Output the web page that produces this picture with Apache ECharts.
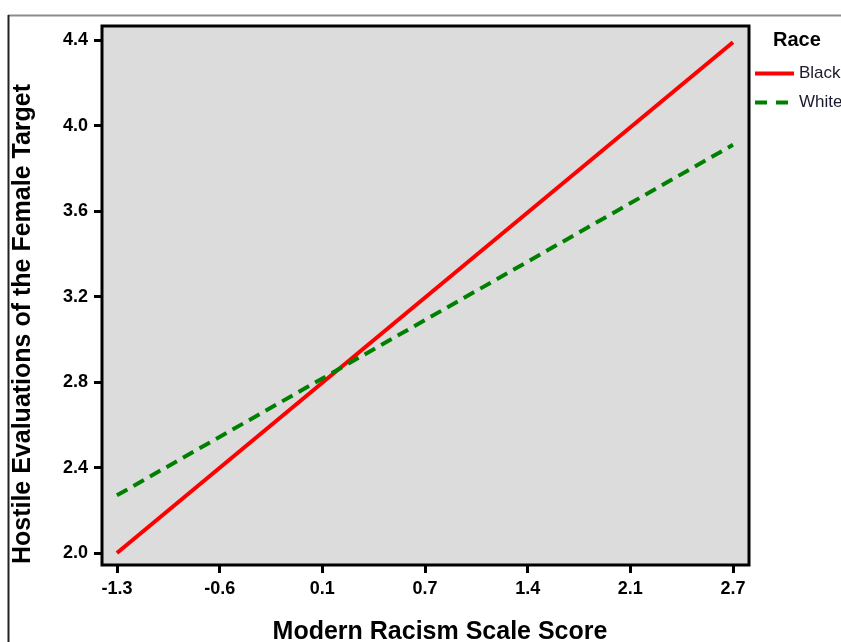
<!DOCTYPE html>
<html>
<head>
<meta charset="utf-8">
<script src="https://cdn.jsdelivr.net/npm/echarts@6/dist/echarts.min.js"></script>
<style>html,body{margin:0;padding:0;background:#fff}#c{width:841px;height:642px}</style>
</head>
<body>
<div id="c"></div>
<script>
// Data
var xTickValues = [-1.26, -0.593, 0.073, 0.74, 1.407, 2.073, 2.74];
var xTickLabels = ['-1.3', '-0.6', '0.1', '0.7', '1.4', '2.1', '2.7'];
var yTickValues = [2.0, 2.4, 2.8, 3.2, 3.6, 4.0, 4.4];
var seriesNames = ['Black', 'White'];
var lineX = [-1.26, 2.74];
var blackValues = [2.0, 4.39];
var whiteValues = [2.27, 3.91];
var xTitle = 'Modern Racism Scale Score';
var yTitle = 'Hostile Evaluations of the Female Target';
var legendTitle = 'Race';

var chart = echarts.init(document.getElementById('c'), null, {renderer: 'canvas'});
var FONT = '"Liberation Sans", Arial, sans-serif';

function toPairs(xs, ys) { return xs.map(function (x, i) { return [x, ys[i]]; }); }

var option = {
  animation: false,
  backgroundColor: '#ffffff',
  grid: {
    left: 102, right: 92, top: 26, bottom: 77,
    show: true, backgroundColor: '#dcdcdc', borderColor: '#000', borderWidth: 3,
    outerBoundsMode: 'none'
  },
  xAxis: {
    type: 'value', min: -1.357, max: 2.844,
    axisLine: {show: false, onZero: false},
    splitLine: {show: false},
    axisTick: {show: true, length: 8, lineStyle: {color: '#000', width: 3}, customValues: xTickValues},
    axisLabel: {
      customValues: xTickValues, margin: 15,
      fontFamily: FONT, fontWeight: 'bold', fontSize: 18, color: '#000',
      formatter: function (v) {
        var i = xTickValues.indexOf(v);
        return i >= 0 ? xTickLabels[i] : '';
      }
    }
  },
  yAxis: {
    type: 'value', min: 1.944, max: 4.466,
    axisLine: {show: false, onZero: false},
    splitLine: {show: false},
    axisTick: {show: true, length: 8, lineStyle: {color: '#000', width: 3}, customValues: yTickValues},
    axisLabel: {
      customValues: yTickValues, margin: 14,
      fontFamily: FONT, fontWeight: 'bold', fontSize: 18, color: '#000',
      formatter: function (v) { return v.toFixed(1); }
    }
  },
  legend: {
    orient: 'vertical', left: 753, top: 65, itemGap: 12, padding: 0,
    itemWidth: 39, itemHeight: 15,
    data: [
      {name: seriesNames[0], lineStyle: {width: 4, color: '#ff0000', type: 'solid'}},
      {name: seriesNames[1], lineStyle: {width: 4, color: '#008000', type: [12, 9]}}
    ],
    itemStyle: {opacity: 0},
    lineStyle: {opacity: 1, width: 4},
    textStyle: {fontFamily: FONT, fontSize: 17, color: '#1a1a2e'}
  },
  graphic: [
    {type: 'line', shape: {x1: 8, y1: 15.5, x2: 841, y2: 15.5}, style: {stroke: '#8c8c8c', lineWidth: 2}},
    {type: 'line', shape: {x1: 8.5, y1: 15, x2: 8.5, y2: 642}, style: {stroke: '#222', lineWidth: 2}},
    {type: 'text', x: 773, y: 40, style: {text: legendTitle, font: 'bold 20px ' + FONT, fill: '#000', verticalAlign: 'middle'}},
    {type: 'text', x: 440, y: 632, style: {text: xTitle, font: 'bold 25px ' + FONT, fill: '#000', align: 'center', verticalAlign: 'middle'}},
    {type: 'text', x: 23, y: 324, rotation: Math.PI / 2, style: {text: yTitle, font: 'bold 25px ' + FONT, fill: '#000', align: 'center', verticalAlign: 'middle'}}
  ],
  series: [
    {
      name: seriesNames[0], type: 'line', data: toPairs(lineX, blackValues),
      symbol: 'none', lineStyle: {color: '#ff0000', width: 4}, itemStyle: {color: '#ff0000'}
    },
    {
      name: seriesNames[1], type: 'line', data: toPairs(lineX, whiteValues),
      symbol: 'none', lineStyle: {color: '#008000', width: 4, type: [12, 7]}, itemStyle: {color: '#008000'}
    }
  ]
};
chart.setOption(option);
</script>
</body>
</html>
